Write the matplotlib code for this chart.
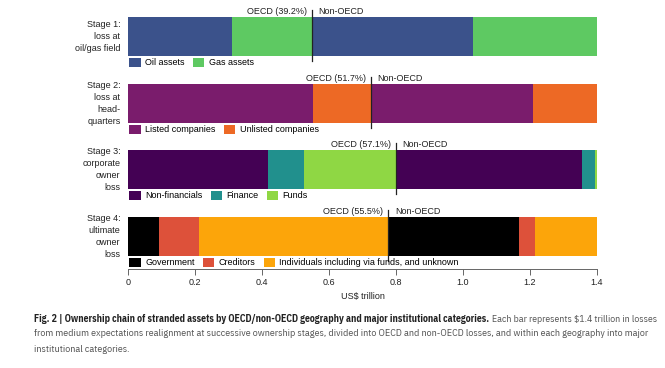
import matplotlib
matplotlib.use("Agg")
import matplotlib.pyplot as plt
from matplotlib.patches import Patch

plt.rcParams['font.family'] = ['Liberation Sans', 'DejaVu Sans']

# stage labels, OECD share, segments (OECD part then non-OECD part) in US$ trillion
stages = ["Stage 1:\nloss at\noil/gas field",
          "Stage 2:\nloss at\nhead-\nquarters",
          "Stage 3:\ncorporate\nowner\nloss",
          "Stage 4:\nultimate\nowner\nloss"]
oecd_share = ["39.2%", "51.7%", "57.1%", "55.5%"]
oecd_total = [0.549, 0.724, 0.800, 0.777]

cats1 = ["Oil assets", "Gas assets"]
oecd1 = [0.310, 0.239]
non1 = [0.481, 0.370]

cats2 = ["Listed companies", "Unlisted companies"]
oecd2 = [0.551, 0.173]
non2 = [0.484, 0.192]

cats3 = ["Non-financials", "Finance", "Funds"]
oecd3 = [0.418, 0.107, 0.275]
non3 = [0.555, 0.038, 0.007]

cats4 = ["Government", "Creditors", "Individuals including via funds, and unknown"]
oecd4 = [0.094, 0.119, 0.564]
non4 = [0.391, 0.047, 0.185]

colors = [["#3b528b", "#5ec962"],
          ["#7a1c6c", "#ed6925"],
          ["#440154", "#21908d", "#8fd744"],
          ["#000000", "#dd513a", "#fca50a"]]

data = [(cats1, oecd1, non1), (cats2, oecd2, non2), (cats3, oecd3, non3), (cats4, oecd4, non4)]
bar_px = [(17, 56), (84, 123), (150, 189), (217, 256)]

W, H = 665, 368
fig = plt.figure(figsize=(W / 100, H / 100), dpi=100)
x0, x1 = 128, 597
fs = 6.5
txt = '#222222'

for i, (cats, o, n) in enumerate(data):
    top, bot = bar_px[i]
    ax = fig.add_axes([x0 / W, 1 - bot / H, (x1 - x0) / W, (bot - top) / H])
    left = 0.0
    for vals in (o, n):
        for v, c in zip(vals, colors[i]):
            ax.barh(0.5, v, left=left, height=1.0, color=c, edgecolor='none')
            left += v
    ax.set_xlim(0, 1.4)
    ax.set_ylim(0, 1)
    ax.set_yticks([])
    for s in ['top', 'right', 'left']:
        ax.spines[s].set_visible(False)
    ax.plot([oecd_total[i]] * 2, [-0.12, 1.18], color=txt, lw=0.9, clip_on=False)
    ax.text(oecd_total[i] - 0.015, 1.03, "OECD (%s)" % oecd_share[i], ha='right', va='bottom', fontsize=fs, color=txt)
    ax.text(oecd_total[i] + 0.02, 1.03, "Non-OECD", ha='left', va='bottom', fontsize=fs, color=txt)
    ax.text(-0.016, 0.5, stages[i], transform=ax.get_yaxis_transform(), ha='right', va='center',
            fontsize=fs, linespacing=1.45, color=txt)
    handles = [Patch(facecolor=c, edgecolor='none') for c in colors[i]]
    ax.legend(handles, cats, loc='upper left', bbox_to_anchor=(0.003, -0.04), ncol=len(cats), frameon=False,
              fontsize=fs, handlelength=1.25, handleheight=1.25, handletextpad=0.5, columnspacing=0.9,
              borderaxespad=0.0, borderpad=0.0)
    if i < 3:
        ax.spines['bottom'].set_visible(False)
        ax.set_xticks([])
    else:
        ax.spines['bottom'].set_position(('outward', 9))
        ax.spines['bottom'].set_linewidth(0.7)
        ax.spines['bottom'].set_color('#666666')
        ax.set_xticks([0, 0.2, 0.4, 0.6, 0.8, 1.0, 1.2, 1.4])
        ax.set_xticklabels(["0", "0.2", "0.4", "0.6", "0.8", "1.0", "1.2", "1.4"])
        ax.tick_params(axis='x', labelsize=fs, length=4.5, width=0.7, pad=2, color='#666666', labelcolor=txt)
        ax.set_xlabel("US$ trillion", fontsize=fs, labelpad=4, color=txt)

# caption in a condensed face; size chosen so the second line spans the reference width
cap_font = ['IBM Plex Sans Condensed', 'Fira Sans Condensed', 'Liberation Sans']
r = fig.canvas.get_renderer()
bold = "Fig. 2 | Ownership chain of stranded assets by OECD/non-OECD geography and major institutional categories."
rest1 = r"Each bar represents \$1.4 trillion in losses"
line2 = ("from medium expectations realignment at successive ownership stages, divided into OECD and "
         "non-OECD losses, and within each geography into major")
p = fig.text(0, 0, line2, fontsize=10, family=cap_font)
cfs = 10 * 611 / p.get_window_extent(renderer=r).width
p.remove()

t = fig.text(34 / W, 1 - 319 / H, bold, fontsize=cfs, fontweight='bold', family=cap_font,
             va='center', ha='left', color='#222222')
bb = t.get_window_extent(renderer=r)
t2 = fig.text((bb.x1 + 3) / W, 1 - 319 / H, rest1, fontsize=cfs, family=cap_font,
              va='center', ha='left', color='#555555')
# keep the first line inside the figure if the bold face runs wide
over = t2.get_window_extent(renderer=r).x1 - 652
if over > 0:
    k = (652 - 34) / (652 - 34 + over)
    t.set_fontsize(cfs * k)
    bb = t.get_window_extent(renderer=r)
    t2.set_fontsize(cfs * k)
    t2.set_x((bb.x1 + 3) / W)
fig.text(34 / W, 1 - 334 / H, line2, fontsize=cfs, family=cap_font, va='center', ha='left', color='#555555')
fig.text(34 / W, 1 - 349 / H, "institutional categories.", fontsize=cfs, family=cap_font,
         va='center', ha='left', color='#555555')

fig.savefig("out.png", dpi=100)
